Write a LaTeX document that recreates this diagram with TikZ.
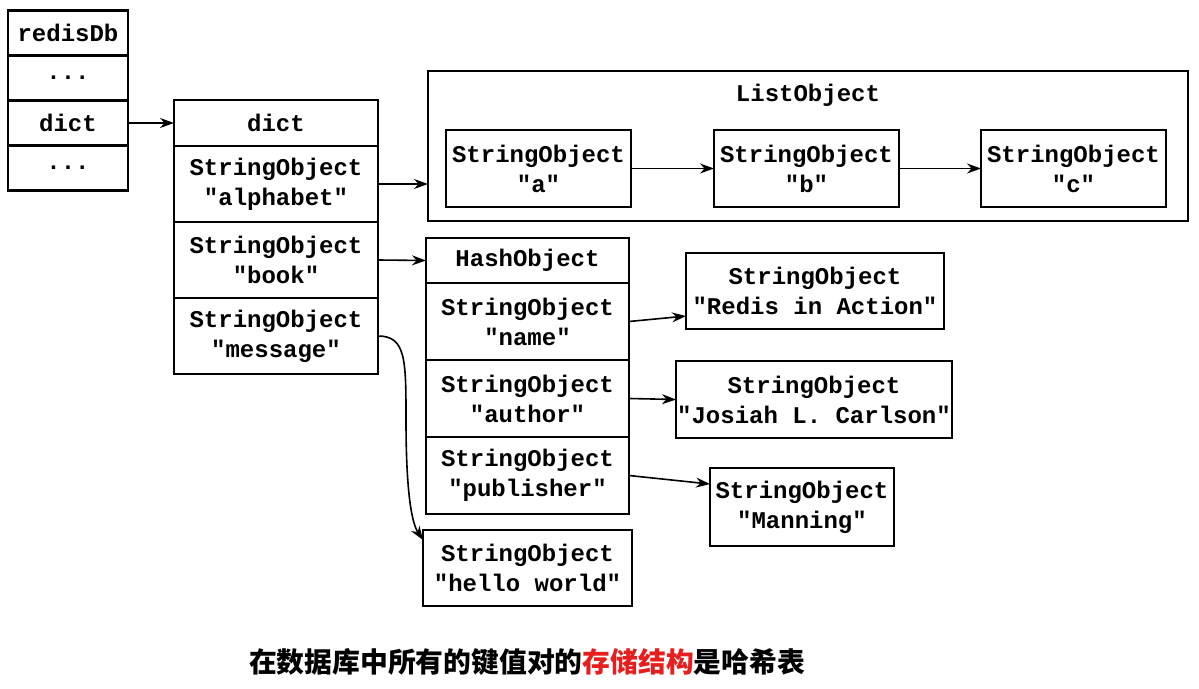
\documentclass[tikz,border=0pt]{standalone}
\usepackage{fontspec}
\setmonofont{Liberation Mono}
\newfontfamily\cjk{Noto Sans CJK SC}
\usepackage{xcolor}
\usetikzlibrary{positioning,arrows.meta}
\definecolor{capred}{RGB}{230,30,30}

\begin{document}
\begin{tikzpicture}[x=0.5pt, y=-0.5pt, node distance=0pt,
    every node/.style = {font=\ttfamily\bfseries\fontsize{12}{15}\selectfont},
    cell/.style = {draw, line width=1.1pt, align=center, inner sep=0pt, outer sep=0pt},
    dbcell/.style = {cell, minimum width=60pt, minimum height=22.5pt},
    dhead/.style = {cell, minimum width=102pt, minimum height=23pt},
    drow/.style = {cell, minimum width=102pt, minimum height=38pt},
    hhead/.style = {cell, minimum width=101.5pt, minimum height=22.5pt},
    hrow/.style = {cell, minimum width=101.5pt, minimum height=38.5pt},
    lrow/.style = {cell, minimum width=92.5pt, minimum height=38.5pt},
    link/.style = {-{Stealth[length=7pt,width=5pt]}, line width=0.8pt}]
  \useasboundingbox (0,0) rectangle (1199,689);

  % redisDb
  \node[dbcell] (rdb) at (68,33) {redisDb};
  \node[dbcell, below=of rdb] (rdots1) {...};
  \node[dbcell, below=of rdots1] (rdict) {dict};
  \node[dbcell, below=of rdict] (rdots2) {...};

  % dict
  \node[dhead] (dict) at (276,123) {dict};
  \node[drow, below=of dict] (alpha) {StringObject\\"alphabet"};
  \node[drow, below=of alpha] (book) {StringObject\\"book"};
  \node[drow, below=of book] (msg) {StringObject\\"message"};

  % list
  \node[cell, minimum width=380pt, minimum height=75pt] (list) at (808,146) {};
  \node (listtitle) at (808,95) {ListObject};
  \node[lrow] (la) at (538.5,168.5) {StringObject\\"a"};
  \node[lrow, right=41.5pt of la] (lb) {StringObject\\"b"};
  \node[lrow, right=41pt of lb] (lc) {StringObject\\"c"};

  % hash
  \node[hhead] (hash) at (527.5,260.5) {HashObject};
  \node[hrow, below=of hash] (name) {StringObject\\"name"};
  \node[hrow, below=of name] (author) {StringObject\\"author"};
  \node[hrow, below=of author] (pub) {StringObject\\"publisher"};

  % values
  \node[cell, minimum width=129pt, minimum height=38pt] (redis) at (815,291) {StringObject\\"Redis in Action"};
  \node[cell, minimum width=138pt, minimum height=38.5pt] (josiah) at (814,399.5) {StringObject\\"Josiah L. Carlson"};
  \node[cell, minimum width=92pt, minimum height=39pt] (manning) at (802,507) {StringObject\\"Manning"};
  \node[cell, minimum width=104.5pt, minimum height=38pt] (hello) at (527.5,568) {StringObject\\"hello world"};

  \draw[link] (rdict.east) -- (dict.west);
  \draw[link] (alpha.east) -- (alpha.east -| list.west);
  \draw[link] (book.east) -- (hash.west);
  \draw[link] (la) -- (lb);
  \draw[link] (lb) -- (lc);
  \draw[link] (name.east) -- (redis.191);
  \draw[link] (author.east) -- (josiah.west);
  \draw[link] (pub.east) -- (manning.166);
  \draw[link] (msg.east) .. controls +(28,0) and +(0,-60) .. (406,420)
    .. controls +(0,80) and +(-10,-15) .. (hello.165);

  \node[font=\cjk\bfseries\fontsize{13.9}{16}\selectfont] (caption) at (527,662)
    {在数据库中所有的键值对的\textcolor{capred}{存储结构}是哈希表};
\end{tikzpicture}
\end{document}
